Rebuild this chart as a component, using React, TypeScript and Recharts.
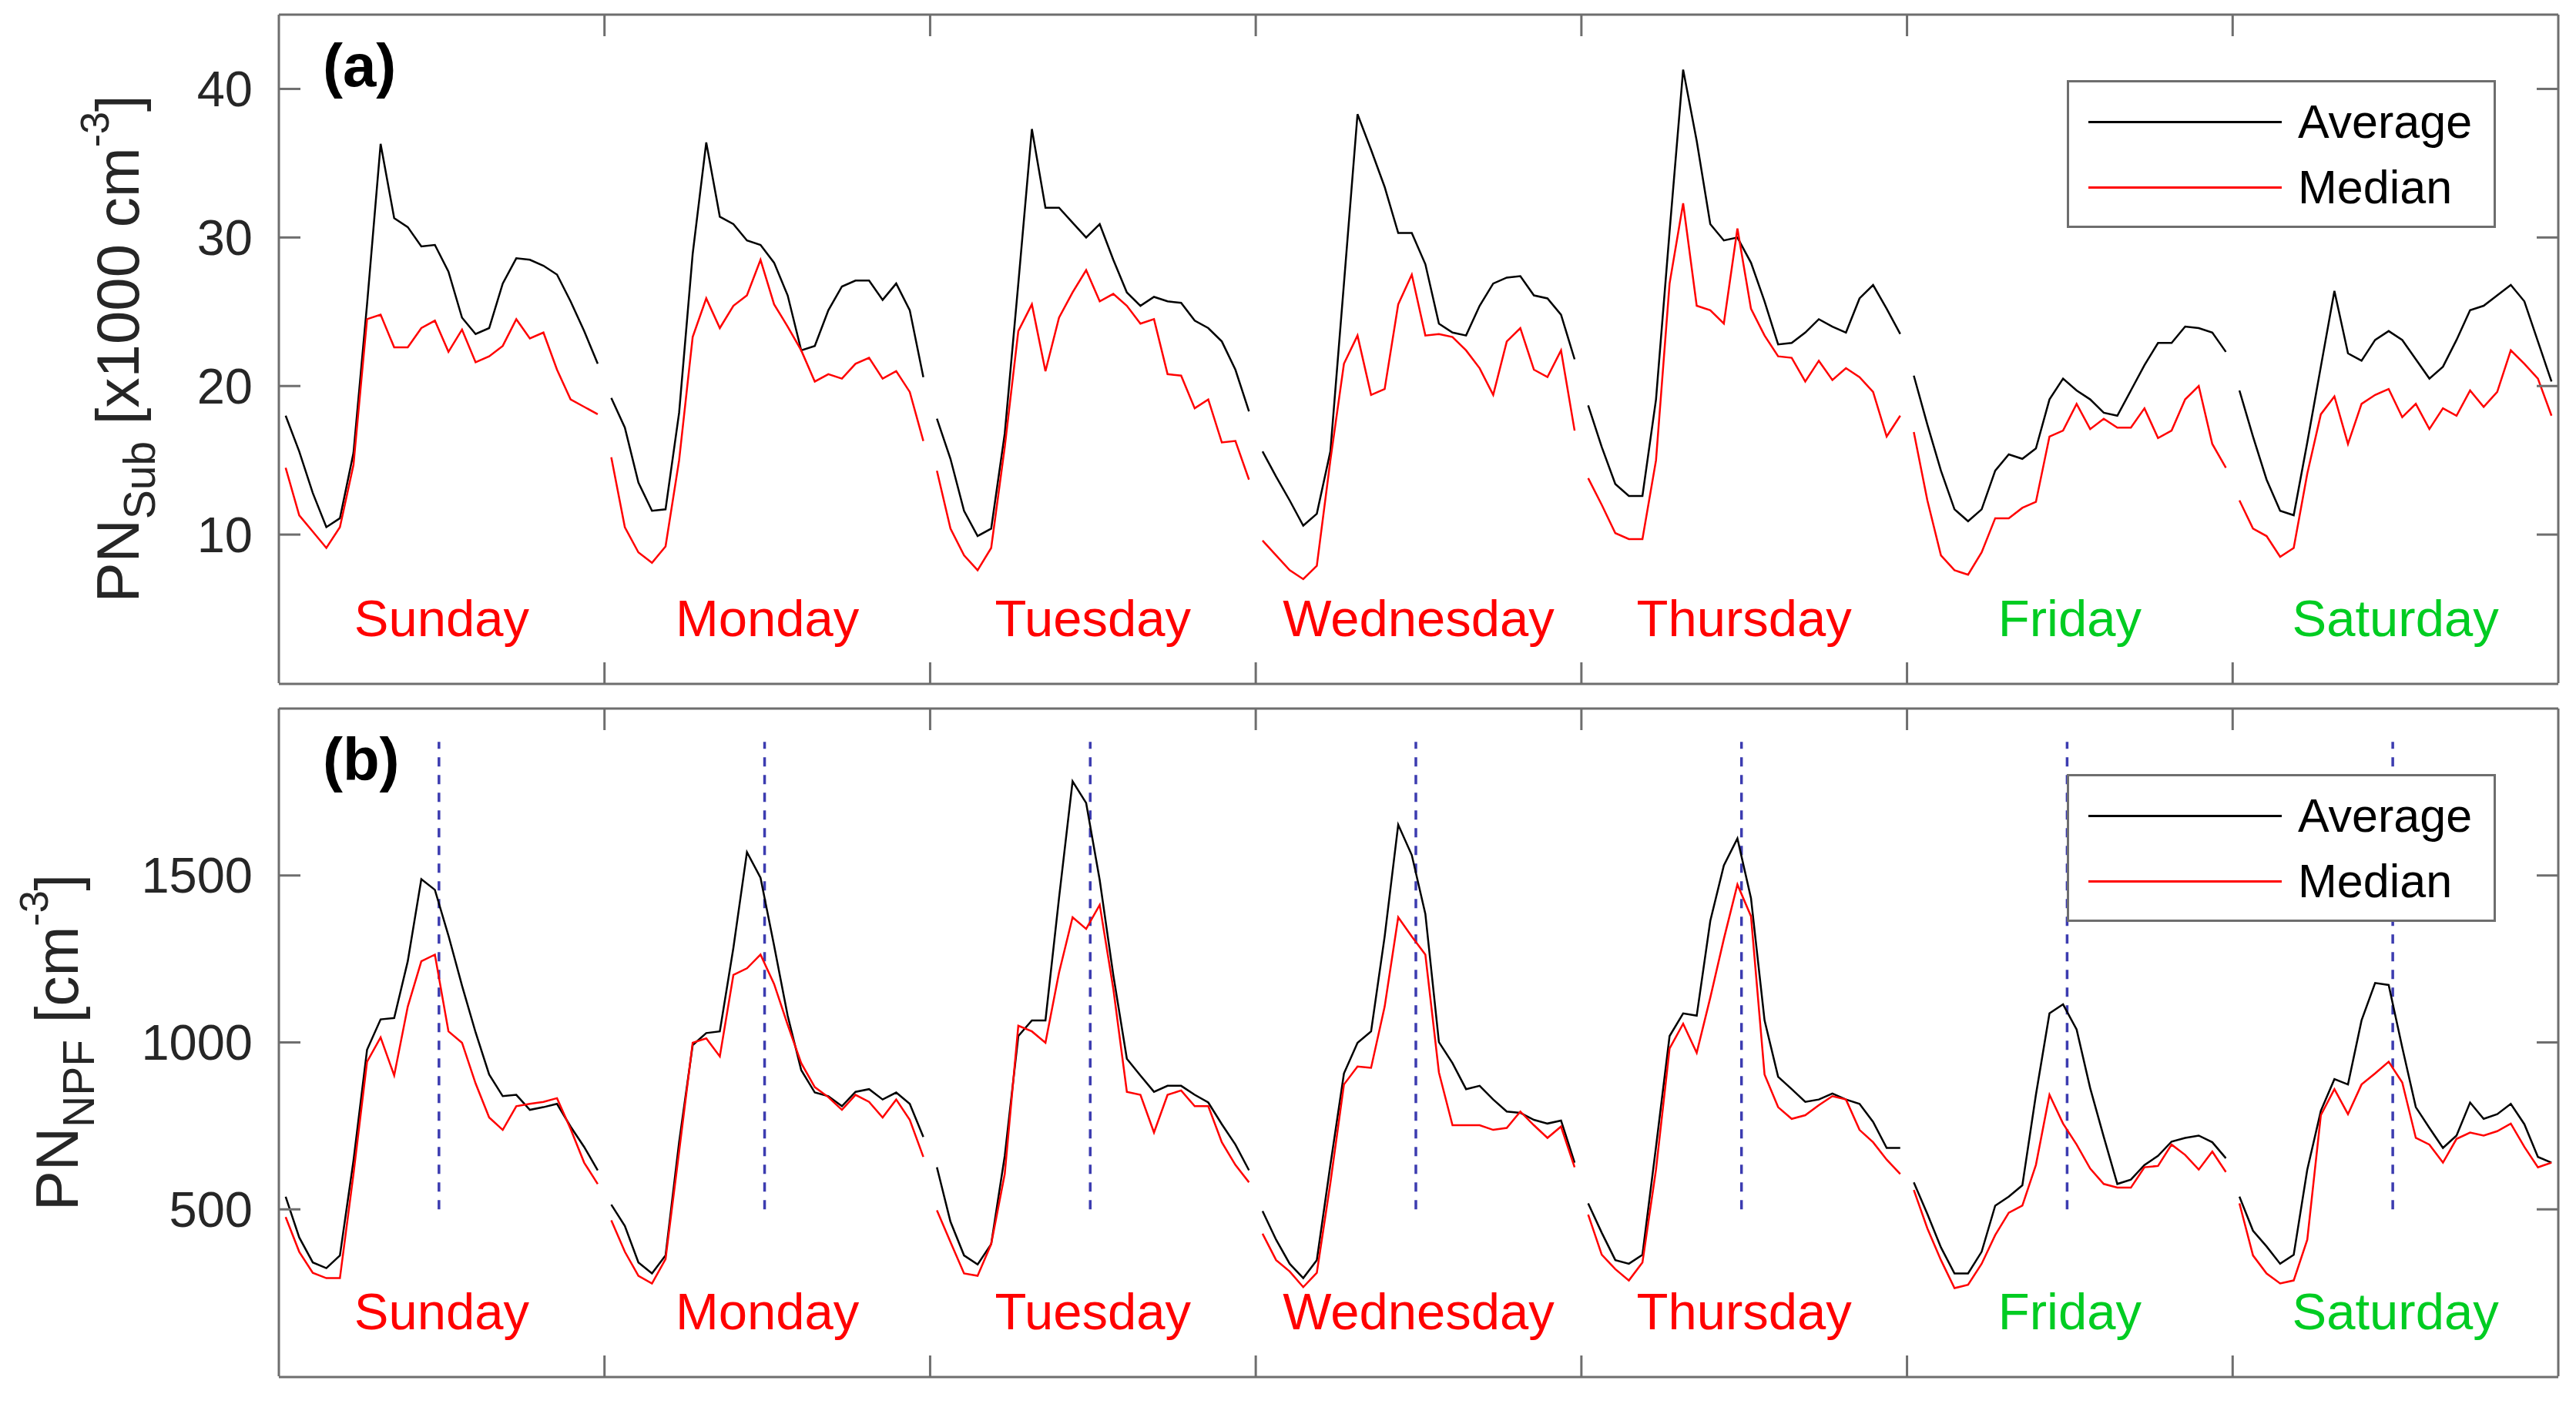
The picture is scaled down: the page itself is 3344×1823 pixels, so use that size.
import React from "react";
import { LineChart, Line, XAxis, YAxis, ReferenceLine, Legend } from "recharts";

// one row of 24 hourly values per weekday, Sunday first
const DAYS = ["Sunday", "Monday", "Tuesday", "Wednesday", "Thursday", "Friday", "Saturday"];
const DAY_COLORS = ["#ff0000", "#ff0000", "#ff0000", "#ff0000", "#ff0000", "#00cc22", "#00cc22"];

const SUB_AVG = [
  [18.0, 15.6, 12.8, 10.5, 11.1, 15.5, 25.5, 36.3, 31.3, 30.7, 29.4, 29.5, 27.7, 24.6, 23.5, 23.9, 26.9, 28.6, 28.5, 28.1, 27.5, 25.7, 23.7, 21.5],
  [19.2, 17.2, 13.5, 11.6, 11.7, 18.2, 28.9, 36.4, 31.4, 30.9, 29.8, 29.5, 28.3, 26.1, 22.4, 22.7, 25.1, 26.7, 27.1, 27.1, 25.8, 26.9, 25.1, 20.6],
  [17.8, 15.1, 11.6, 9.9, 10.4, 16.8, 26.9, 37.3, 32.0, 32.0, 31.0, 30.0, 30.9, 28.5, 26.3, 25.4, 26.0, 25.7, 25.6, 24.4, 23.9, 23.0, 21.1, 18.3],
  [15.6, 13.9, 12.3, 10.6, 11.4, 15.6, 26.9, 38.3, 35.9, 33.4, 30.3, 30.3, 28.2, 24.2, 23.6, 23.4, 25.4, 26.9, 27.3, 27.4, 26.1, 25.9, 24.8, 21.8],
  [18.7, 15.9, 13.4, 12.6, 12.6, 19.1, 30.4, 41.3, 36.5, 30.9, 29.8, 30.0, 28.3, 25.7, 22.8, 22.9, 23.6, 24.5, 24.0, 23.6, 25.9, 26.8, 25.2, 23.5],
  [20.7, 17.4, 14.3, 11.7, 10.9, 11.7, 14.3, 15.4, 15.1, 15.8, 19.1, 20.5, 19.7, 19.1, 18.2, 18.0, 19.7, 21.4, 22.9, 22.9, 24.0, 23.9, 23.6, 22.3],
  [19.7, 16.6, 13.7, 11.6, 11.3, 16.2, 21.3, 26.4, 22.2, 21.7, 23.1, 23.7, 23.1, 21.8, 20.5, 21.3, 23.1, 25.1, 25.4, 26.1, 26.8, 25.7, 23.0, 20.3],
];

const SUB_MED = [
  [14.5, 11.3, 10.2, 9.1, 10.5, 14.7, 24.5, 24.8, 22.6, 22.6, 23.9, 24.4, 22.3, 23.8, 21.6, 22.0, 22.7, 24.5, 23.2, 23.6, 21.1, 19.1, 18.6, 18.1],
  [15.2, 10.5, 8.8, 8.1, 9.2, 15.0, 23.3, 25.9, 23.9, 25.4, 26.1, 28.5, 25.5, 24.0, 22.4, 20.3, 20.8, 20.5, 21.5, 21.9, 20.5, 21.0, 19.6, 16.3],
  [14.3, 10.4, 8.6, 7.6, 9.1, 15.9, 23.7, 25.5, 21.0, 24.6, 26.3, 27.8, 25.7, 26.2, 25.4, 24.2, 24.5, 20.8, 20.7, 18.5, 19.1, 16.2, 16.3, 13.7],
  [9.6, 8.6, 7.6, 7.0, 7.9, 15.0, 21.5, 23.4, 19.4, 19.8, 25.5, 27.5, 23.4, 23.5, 23.3, 22.4, 21.2, 19.4, 23.0, 23.9, 21.1, 20.6, 22.4, 17.0],
  [13.8, 12.0, 10.1, 9.7, 9.7, 15.0, 26.9, 32.3, 25.4, 25.1, 24.2, 30.6, 25.2, 23.4, 22.0, 21.9, 20.3, 21.7, 20.4, 21.2, 20.6, 19.6, 16.6, 18.0],
  [16.9, 12.3, 8.6, 7.6, 7.3, 8.8, 11.1, 11.1, 11.8, 12.2, 16.6, 17.0, 18.8, 17.1, 17.8, 17.2, 17.2, 18.5, 16.5, 17.0, 19.1, 20.0, 16.1, 14.5],
  [12.3, 10.4, 9.9, 8.5, 9.1, 14.1, 18.1, 19.3, 16.1, 18.8, 19.4, 19.8, 17.9, 18.8, 17.1, 18.5, 18.0, 19.7, 18.6, 19.6, 22.4, 21.5, 20.5, 18.0],
];

const NPF_AVG = [
  [538, 416, 341, 324, 362, 646, 978, 1069, 1073, 1243, 1489, 1457, 1320, 1170, 1030, 904, 839, 843, 798, 806, 816, 748, 687, 617],
  [514, 450, 341, 308, 362, 701, 992, 1028, 1033, 1283, 1570, 1493, 1290, 1080, 917, 850, 839, 809, 852, 860, 829, 850, 816, 717],
  [626, 463, 362, 335, 396, 660, 1019, 1066, 1066, 1432, 1782, 1717, 1486, 1202, 951, 901, 852, 870, 870, 843, 820, 755, 694, 617],
  [495, 409, 337, 294, 348, 633, 907, 999, 1033, 1317, 1652, 1561, 1385, 1001, 938, 860, 870, 829, 793, 789, 768, 757, 766, 640],
  [518, 430, 348, 337, 364, 687, 1019, 1087, 1080, 1364, 1530, 1611, 1432, 1066, 897, 860, 822, 829, 847, 829, 816, 762, 684, 684],
  [581, 486, 386, 308, 308, 373, 511, 538, 572, 843, 1087, 1114, 1039, 863, 717, 576, 589, 633, 660, 703, 714, 721, 701, 653],
  [538, 436, 389, 337, 364, 619, 795, 890, 874, 1066, 1178, 1172, 985, 806, 744, 684, 721, 820, 771, 785, 816, 755, 657, 640],
];

const NPF_MED = [
  [477, 373, 310, 294, 294, 606, 942, 1015, 901, 1107, 1243, 1263, 1033, 999, 877, 775, 738, 809, 816, 822, 833, 741, 640, 576],
  [467, 373, 301, 278, 351, 673, 999, 1012, 958, 1202, 1222, 1263, 1175, 1053, 938, 866, 836, 798, 843, 822, 775, 829, 768, 657],
  [497, 402, 308, 301, 396, 606, 1050, 1033, 999, 1209, 1375, 1340, 1412, 1161, 852, 843, 730, 843, 856, 809, 809, 701, 633, 581],
  [427, 348, 314, 267, 310, 579, 874, 928, 924, 1107, 1375, 1317, 1263, 910, 752, 752, 752, 738, 744, 793, 752, 714, 748, 626],
  [484, 364, 321, 287, 341, 619, 982, 1056, 969, 1134, 1310, 1473, 1378, 904, 806, 771, 782, 812, 839, 829, 738, 701, 649, 606],
  [558, 443, 348, 264, 274, 337, 423, 490, 511, 633, 843, 757, 694, 622, 576, 565, 565, 626, 630, 694, 663, 619, 673, 612],
  [518, 362, 308, 278, 287, 409, 782, 860, 785, 874, 907, 942, 880, 714, 694, 640, 711, 730, 721, 734, 757, 687, 626, 640],
];

const SUB_TICKS = [10, 20, 30, 40];
const NPF_TICKS = [500, 1000, 1500];
const SUB_DOMAIN = [0, 45];
const NPF_DOMAIN = [0, 2000];

// hour of the dashed markers in panel (b) and their vertical extent
const NPF_MARK_HOUR = 11.3;
const NPF_MARK_RANGE = [500, 1900];

const HOURS = 24;
const X_DOMAIN = [-0.5, DAYS.length * HOURS - 0.5];
const DAY_BOUNDS = DAYS.slice(1).map((_, i) => (i + 1) * HOURS - 0.5);
const DAY_CENTERS = DAYS.map((_, i) => i * HOURS + 11.5);

const FONT = "'Liberation Sans', Arial, Helvetica, sans-serif";
const FRAME = "#6e6e6e";
const TEXT = "#262626";
const TICK_LEN = 28;
const W = 3344;

function buildRows(avg: number[][], med: number[][]) {
  const rows: { t: number; avg: number | null; med: number | null }[] = [];
  avg.forEach((day, d) => {
    day.forEach((v, h) => rows.push({ t: d * HOURS + h, avg: v, med: med[d][h] }));
    // null row so each day is drawn as its own piece
    if (d < avg.length - 1) rows.push({ t: d * HOURS + HOURS - 0.5, avg: null, med: null });
  });
  return rows;
}

const bottomTick = (p: any) => (
  <line x1={p.x} x2={p.x} y1={p.y} y2={p.y - TICK_LEN} stroke={FRAME} strokeWidth={3} />
);
const topTick = (p: any) => (
  <line x1={p.x} x2={p.x} y1={p.y} y2={p.y + TICK_LEN} stroke={FRAME} strokeWidth={3} />
);
const rightTick = (p: any) => (
  <line x1={p.x} x2={p.x - TICK_LEN} y1={p.y} y2={p.y} stroke={FRAME} strokeWidth={3} />
);
const leftTick = (p: any) => (
  <g>
    <line x1={p.x} x2={p.x + TICK_LEN} y1={p.y} y2={p.y} stroke={FRAME} strokeWidth={3} />
    <text x={p.x - 34} y={p.y} textAnchor="end" dominantBaseline="central" fontSize={65} fill={TEXT} fontFamily={FONT}>
      {p.payload.value}
    </text>
  </g>
);
const dayTick = (p: any) => {
  const d = Math.round((p.payload.value - 11.5) / HOURS);
  return (
    <text x={p.x} y={p.y - 61} textAnchor="middle" fontSize={67} fill={DAY_COLORS[d]} fontFamily={FONT}>
      {DAYS[d]}
    </text>
  );
};

function AxisTitle({ viewBox, titleX, sub, unit, letter }: any) {
  const cy = viewBox.y + viewBox.height / 2;
  const left = viewBox.x + viewBox.width;
  return (
    <g fontFamily={FONT} fill={TEXT}>
      <text x={titleX} y={cy} fontSize={78} textAnchor="middle" transform={`rotate(-90 ${titleX} ${cy})`}>
        PN
        <tspan fontSize={57} dy={21}>{sub}</tspan>
        <tspan dy={-21}>{` [${unit}`}</tspan>
        <tspan fontSize={52} dy={-39}>-3</tspan>
        <tspan dy={39}>]</tspan>
      </text>
      <text x={left + 57} y={viewBox.y + 93} fontSize={78} fontWeight="bold" fill="#000">
        {letter}
      </text>
    </g>
  );
}

function LegendBox({ payload }: any) {
  return (
    <div
      style={{
        width: 557,
        height: 192,
        boxSizing: "border-box",
        border: `3px solid ${FRAME}`,
        background: "#fff",
        position: "relative",
        fontFamily: FONT,
      }}
    >
      {(payload || []).map((entry: any, i: number) => (
        <div key={entry.value} style={{ position: "absolute", left: 25, top: 51 + i * 85 - 40, height: 80, display: "flex", alignItems: "center" }}>
          <div style={{ width: 251, height: 3, background: entry.color }} />
          <span style={{ marginLeft: 21, fontSize: 61, color: "#000", lineHeight: "80px" }}>{entry.value}</span>
        </div>
      ))}
    </div>
  );
}

function Panel({ rows, domain, ticks, height, margin, titleX, sub, unit, letter, marks }: any) {
  return (
    <LineChart width={W} height={height} data={rows} margin={margin}>
      <XAxis xAxisId="x" dataKey="t" type="number" domain={X_DOMAIN} ticks={DAY_BOUNDS} height={1}
        tickSize={0} tickMargin={0} tickLine={false} tick={bottomTick} interval={0}
        axisLine={{ stroke: FRAME, strokeWidth: 3 }} allowDataOverflow />
      <XAxis xAxisId="days" dataKey="t" type="number" domain={X_DOMAIN} ticks={DAY_CENTERS} height={1}
        tickSize={0} tickMargin={0} tickLine={false} tick={dayTick} interval={0} axisLine={false} allowDataOverflow />
      <XAxis xAxisId="top" orientation="top" dataKey="t" type="number" domain={X_DOMAIN} ticks={DAY_BOUNDS} height={1}
        tickSize={0} tickMargin={0} tickLine={false} tick={topTick} interval={0}
        axisLine={{ stroke: FRAME, strokeWidth: 3 }} allowDataOverflow />
      <YAxis yAxisId="y" type="number" domain={domain} ticks={ticks} width={1} tickSize={0} tickMargin={0}
        tickLine={false} tick={leftTick} interval={0} axisLine={{ stroke: FRAME, strokeWidth: 3 }} allowDataOverflow
        label={{ content: (p: any) => <AxisTitle {...p} titleX={titleX} sub={sub} unit={unit} letter={letter} /> }} />
      <YAxis yAxisId="r" orientation="right" type="number" domain={domain} ticks={ticks} width={1} tickSize={0}
        tickMargin={0} tickLine={false} tick={rightTick} interval={0} axisLine={{ stroke: FRAME, strokeWidth: 3 }} allowDataOverflow />
      {marks &&
        DAYS.map((d, i) => (
          <ReferenceLine key={d} xAxisId="x" yAxisId="y" ifOverflow="visible"
            segment={[{ x: i * HOURS + NPF_MARK_HOUR, y: NPF_MARK_RANGE[0] }, { x: i * HOURS + NPF_MARK_HOUR, y: NPF_MARK_RANGE[1] }]}
            stroke="#3c3cb0" strokeWidth={3.5} strokeDasharray="12 11" />
        ))}
      <Line xAxisId="x" yAxisId="y" dataKey="avg" name="Average" stroke="#000000" strokeWidth={2.5} dot={false}
        activeDot={false} isAnimationActive={false} connectNulls={false} />
      <Line xAxisId="x" yAxisId="y" dataKey="med" name="Median" stroke="#ff0000" strokeWidth={2.5} dot={false}
        activeDot={false} isAnimationActive={false} connectNulls={false} />
      <Legend layout="horizontal" verticalAlign="middle" align="center" content={<LegendBox />}
        wrapperStyle={{ left: 2683, top: margin.top + 86, width: 557, height: 192, right: "auto", bottom: "auto" }} />
    </LineChart>
  );
}

export default function App() {
  const subRows = buildRows(SUB_AVG, SUB_MED);
  const npfRows = buildRows(NPF_AVG, NPF_MED);
  return (
    <div style={{ position: "absolute", left: 0, top: 0, width: W, height: 1823, background: "#fff" }}>
      <div style={{ position: "absolute", left: 0, top: 0 }}>
        <Panel rows={subRows} domain={SUB_DOMAIN} ticks={SUB_TICKS} height={900}
          margin={{ top: 18, right: 22, bottom: 11, left: 361 }} titleX={180} sub="Sub" unit="x1000 cm" letter="(a)" />
      </div>
      <div style={{ position: "absolute", left: 0, top: 900 }}>
        <Panel rows={npfRows} domain={NPF_DOMAIN} ticks={NPF_TICKS} height={923}
          margin={{ top: 19, right: 22, bottom: 34, left: 361 }} titleX={101} sub="NPF" unit="cm" letter="(b)" marks />
      </div>
    </div>
  );
}
